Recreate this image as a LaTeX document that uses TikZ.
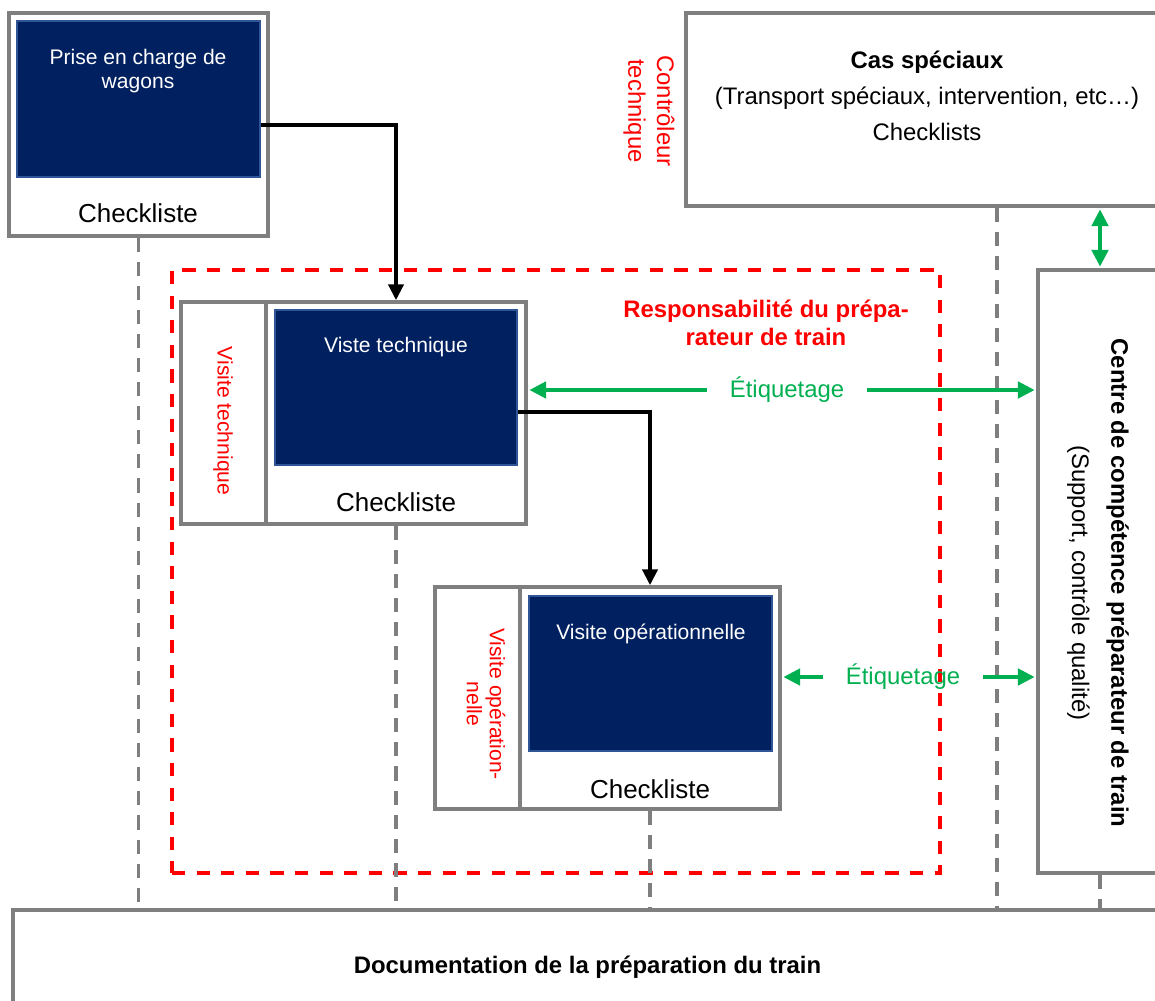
\documentclass[tikz,border=0pt]{standalone}
\usepackage{fontspec}
\setmainfont{Liberation Sans}
\usetikzlibrary{arrows.meta,fit,positioning}
\definecolor{boxgray}{HTML}{7F7F7F}
\definecolor{navy}{HTML}{002060}
\definecolor{navyedge}{HTML}{2F5597}
\definecolor{respred}{HTML}{FF0000}
\definecolor{vert}{HTML}{00B050}
\newcommand\szbody{\fontsize{13.6pt}{16.3pt}\selectfont}
\newcommand\szpetit{\fontsize{12pt}{13.2pt}\selectfont}
\newcommand\szck{\fontsize{14.8pt}{17pt}\selectfont}
\tikzset{
  cadre/.style={draw=boxgray, line width=2pt, fill=white, inner sep=0pt},
  bloc/.style={draw=navyedge, line width=1pt, fill=navy, inner sep=0pt},
  resp/.style={draw=respred, line width=2.2pt, dash pattern=on 7.5pt off 6.5pt, inner sep=0pt},
  repere/.style={draw=boxgray, line width=2pt, dash pattern=on 8pt off 5.7pt},
  flux/.style={draw=black, line width=2.2pt, -{Triangle[width=8.5pt,length=9pt]}},
  etiq/.style={draw=vert, line width=1.8pt, -{Triangle[width=9.5pt,length=9.5pt]}, shorten >=1pt},
  blanc/.style={text=white, font=\szpetit, align=center, inner sep=0pt},
  cote/.style={text=respred, align=center, inner sep=0pt, rotate=-90},
  etiqlab/.style={text=vert, font=\szbody, inner ysep=0pt, inner xsep=13pt},
  texte/.style={font=\szbody, align=center, inner sep=0pt}
}
\begin{document}
\begin{tikzpicture}[x=0.02cm, y=-0.02cm]
\useasboundingbox (0,0) rectangle (1155,1000);

% cadres
\node[cadre, fit={(9,13) (268,236)}] (pec) {};
\node[bloc, fit={(17,21) (260,177)}] (pecin) {};
\node[resp, fit={(172,270) (940,873)}] (zone) {};
\node[cadre, fit={(181,302) (266,524)}] (vtside) {};
\node[cadre, fit={(266,302) (526,524)}] (vtmain) {};
\node[bloc, fit={(275,310) (517,465)}] (vtin) {};
\node[cadre, fit={(435,587) (520,809)}] (voside) {};
\node[cadre, fit={(520,587) (780,809)}] (vomain) {};
\node[bloc, fit={(529,596) (772,751)}] (voin) {};
\node[cadre, fit={(686,13) (1162,206)}] (cas) {};
\node[cadre, fit={(1038,270) (1162,873)}] (centre) {};
\node[cadre, fit={(13,910) (1162,1008)}] (doc) {};

% reperes
\draw[repere] (pec.south) -- (pec.south |- doc.north);
\draw[repere] (vtmain.south) -- (vtmain.south |- doc.north);
\draw[repere] (vomain.south) -- (vomain.south |- doc.north);
\draw[repere] (cas.south -| 997,0) -- (doc.north -| 997,0);
\draw[repere] (centre.south) -- (centre.south |- doc.north);

% textes
\node[blanc] (pectxt) at (138,71) {Prise en charge de\\wagons};
\node[blanc] (vttxt) at (396,347) {Viste technique};
\node[blanc] (votxt) at (651,634) {Visite opérationnelle};
\node[texte, font=\szck] (ck1) at (138,213) {Checkliste};
\node[texte, font=\szck] (ck2) at (396,502) {Checkliste};
\node[texte, font=\szck] (ck3) at (650,789) {Checkliste};
\node[cote, font=\szpetit] (vtlab) at (223,421) {Visite technique};
\node[cote, font=\szpetit] (volab) at (486,704) {Visite opération-\\nelle};
\node[cote, font=\szbody] (ctlab) at (649,111) {Contrôleur\\technique};
\node[texte, text=respred, font=\szbody\bfseries] (resplab) at (766,323) {Responsabilité du prépa-\\rateur de train};
\node[texte] (castxt) at (927,96) {\textbf{Cas spéciaux}\\[4pt](Transport spéciaux, intervention, etc…)\\[4pt]Checklists};
\node[texte, rotate=-90] (centretxt) at (1098,583) {\textbf{Centre de compétence préparateur de train}\\[6pt](Support, contrôle qualité)};
\node[texte, font=\szbody\bfseries] (doctxt) at (doc.center |- 0,967) {Documentation de la préparation du train};
\node[etiqlab] (et1) at (787,390) {Étiquetage};
\node[etiqlab] (et2) at (903,677) {Étiquetage};

% fleches
\draw[flux] (pecin.east |- 0,125) -| (vtmain.north);
\draw[flux] (vtin.east |- 0,412) -| (vomain.north);
\draw[etiq] (et1.west) -- (vtmain.east |- et1.west);
\draw[etiq] (et1.east) -- (centre.west |- et1.east);
\draw[etiq] (et2.west) -- (vomain.east |- et2.west);
\draw[etiq] (et2.east) -- (centre.west |- et2.east);
\draw[etiq, shorten <=1pt, {Triangle[width=9.5pt,length=9.5pt]}-{Triangle[width=9.5pt,length=9.5pt]}] (centre.north |- cas.south) -- (centre.north);
\end{tikzpicture}
\end{document}
